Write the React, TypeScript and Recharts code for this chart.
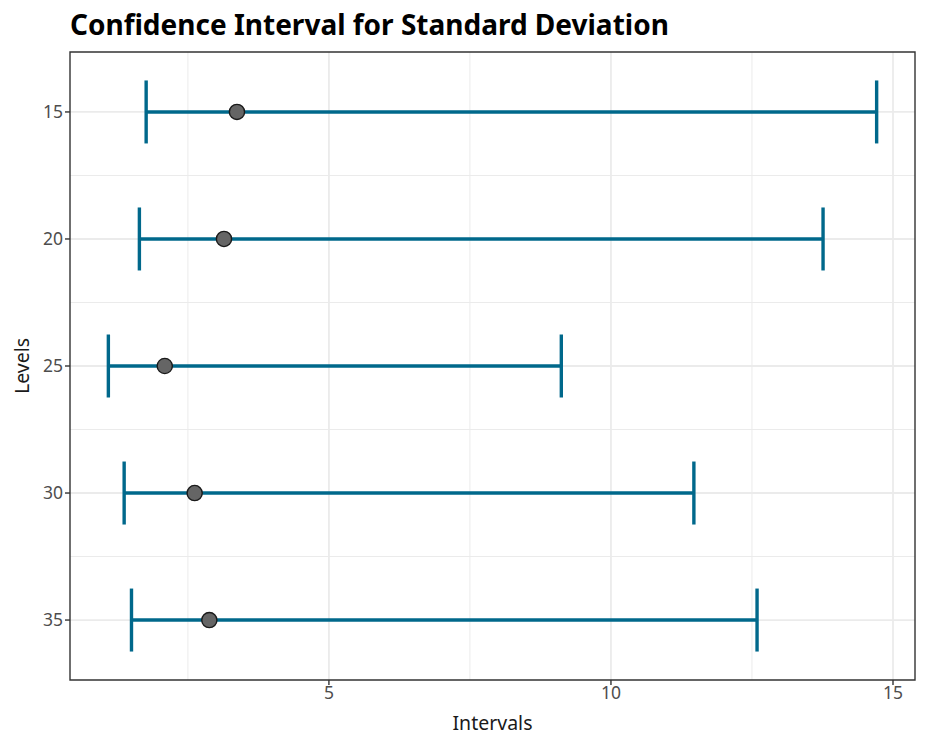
import React from 'react';
import {
  ScatterChart,
  Scatter,
  XAxis,
  YAxis,
  CartesianGrid,
  ErrorBar,
  ReferenceArea,
} from 'recharts';

const levels = [15, 20, 25, 30, 35];
const estimates = [3.37, 3.14, 2.09, 2.62, 2.88];
const lowerBounds = [1.76, 1.64, 1.09, 1.37, 1.5];
const upperBounds = [14.71, 13.76, 9.12, 11.47, 12.59];

const xTicks = [5, 10, 15];
const xMinor = [2.5, 7.5, 12.5];
const yMinor = [17.5, 22.5, 27.5, 32.5];

const X_DOMAIN: [number, number] = [0.41, 15.39];
const Y_DOMAIN: [number, number] = [12.64, 37.36];

const data = levels.map((lv, i) => ({
  level: lv,
  est: estimates[i],
  err: [estimates[i] - lowerBounds[i], upperBounds[i] - estimates[i]],
}));

const FONT = '"Noto Sans", "DejaVu Sans", sans-serif';

const Dot = (props: any) => {
  const { cx, cy } = props;
  return <circle cx={cx} cy={cy} r={7.6} fill="#656565" stroke="#1a1a1a" strokeWidth={1.4} />;
};

export default function App() {
  return (
    <div style={{ position: 'absolute', left: 0, top: 0, width: 938, height: 745, background: '#fff' }}>
      <div
        style={{
          position: 'absolute',
          left: 70,
          top: 4,
          fontFamily: FONT,
          fontWeight: 700,
          fontSize: 28,
          color: '#000',
          whiteSpace: 'nowrap',
          lineHeight: '40px',
        }}
      >
        Confidence Interval for Standard Deviation
      </div>
      <ScatterChart
        width={938}
        height={745}
        margin={{ top: 52, right: 23, bottom: 0, left: 0 }}
        style={{ fontFamily: FONT }}
      >
        <CartesianGrid
          stroke="#ebebeb"
          strokeWidth={1}
          verticalValues={xMinor}
          horizontalValues={yMinor}
        />
        <CartesianGrid
          stroke="#ebebeb"
          strokeWidth={1.8}
          verticalValues={xTicks}
          horizontalValues={levels}
        />
        <XAxis
          type="number"
          dataKey="est"
          domain={X_DOMAIN}
          ticks={xTicks}
          allowDataOverflow
          height={65}
          axisLine={false}
          tickLine={{ stroke: '#333333', strokeWidth: 1.4 }}
          tickSize={5}
          tick={{ fill: '#4d4d4d', fontSize: 17.5 }}
          label={{ value: 'Intervals', position: 'insideBottom', offset: 15, fill: '#1a1a1a', fontSize: 19.5 }}
        />
        <YAxis
          type="number"
          dataKey="level"
          domain={Y_DOMAIN}
          ticks={levels}
          reversed
          allowDataOverflow
          width={70}
          axisLine={false}
          tickLine={{ stroke: '#333333', strokeWidth: 1.4 }}
          tickSize={5}
          tick={{ fill: '#4d4d4d', fontSize: 17.5 }}
          label={{
            value: 'Levels',
            angle: -90,
            position: 'insideLeft',
            offset: 22,
            fill: '#1a1a1a',
            fontSize: 19.5,
            style: { textAnchor: 'middle' },
          }}
        />
        <ReferenceArea
          x1={X_DOMAIN[0]}
          x2={X_DOMAIN[1]}
          y1={Y_DOMAIN[0]}
          y2={Y_DOMAIN[1]}
          fill="none"
          stroke="#333333"
          strokeWidth={1.4}
          ifOverflow="visible"
        />
        <Scatter data={data} shape={<Dot />} isAnimationActive={false}>
          <ErrorBar
            dataKey="err"
            direction="x"
            width={31.5}
            stroke="#00688B"
            strokeWidth={3.4}
            isAnimationActive={false}
          />
        </Scatter>
      </ScatterChart>
    </div>
  );
}
